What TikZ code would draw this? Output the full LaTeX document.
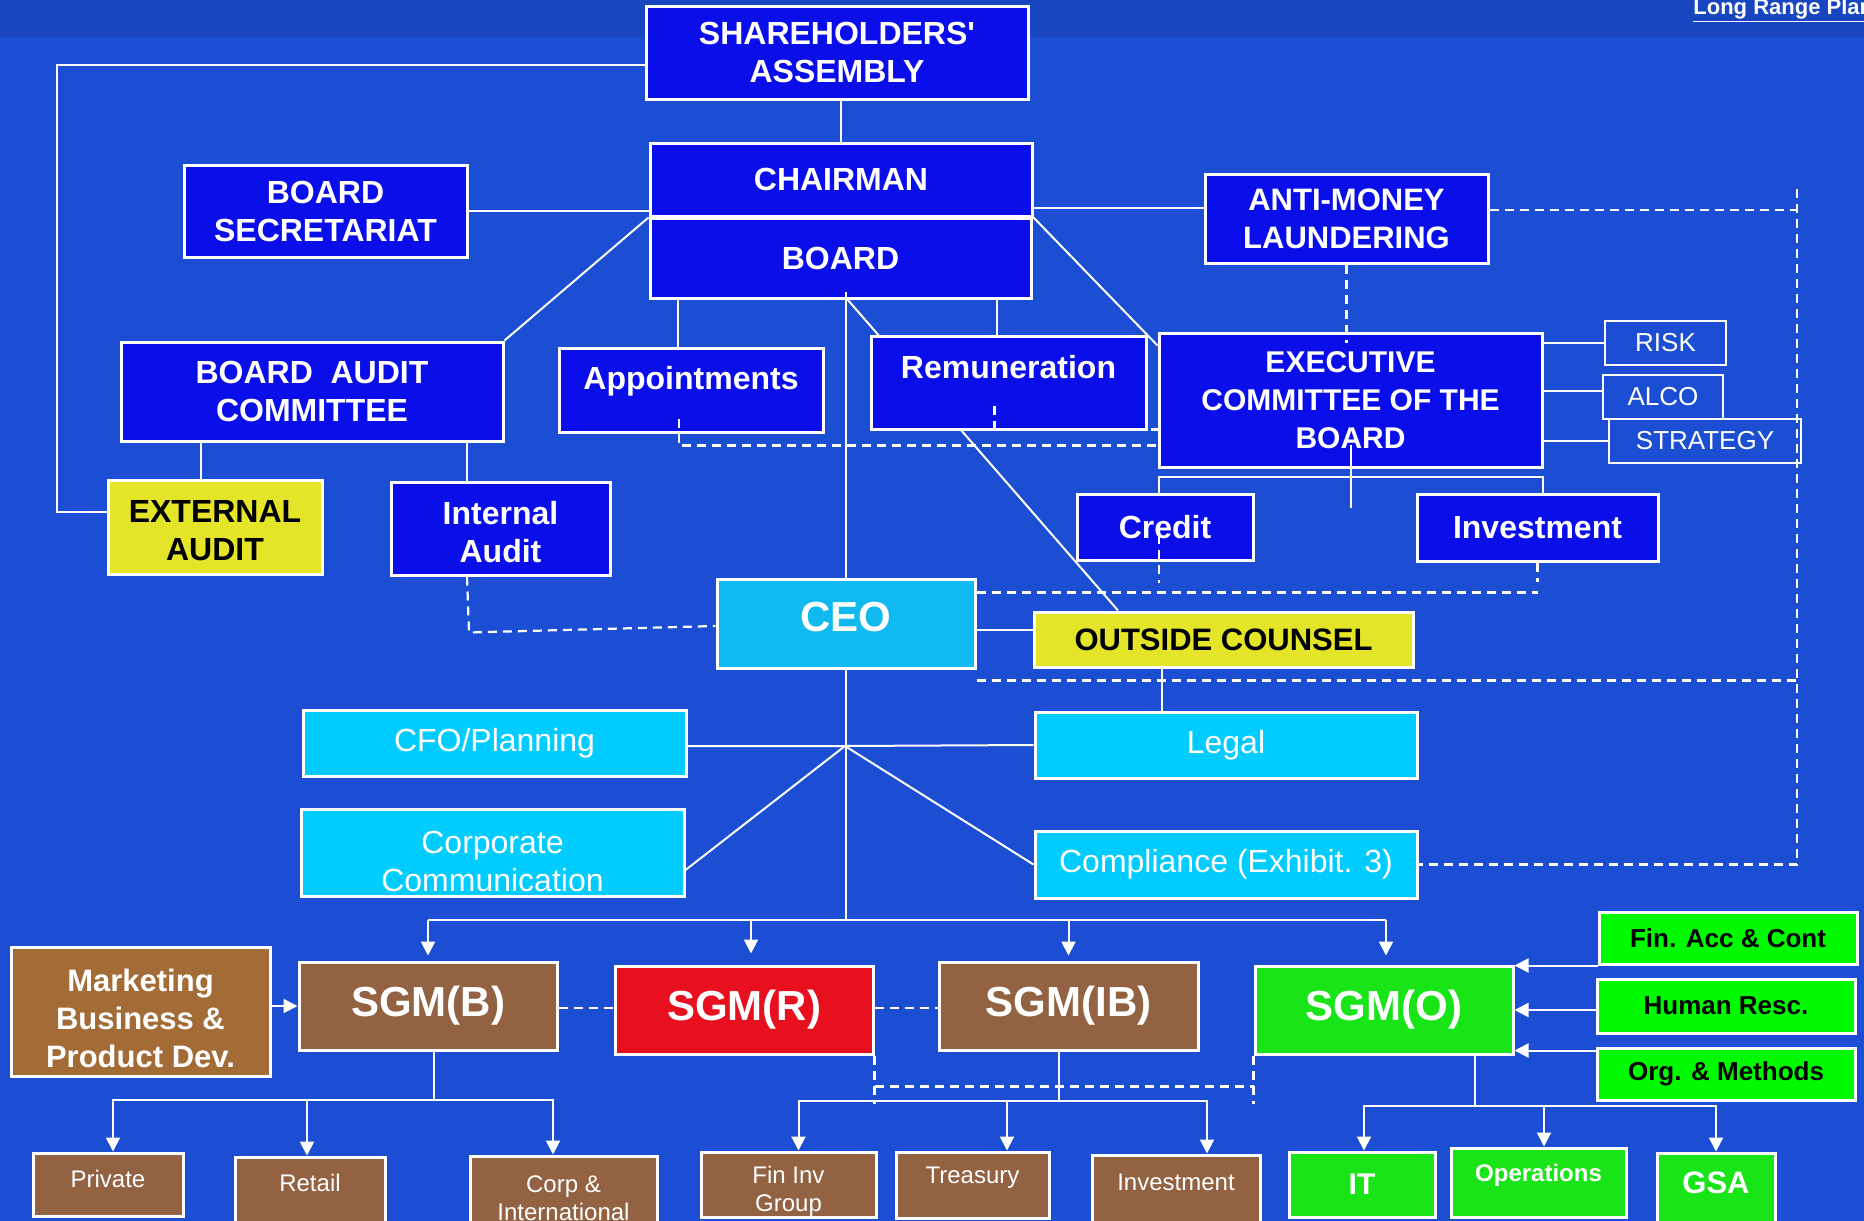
\documentclass[tikz,border=0pt]{standalone}
\usepackage{fontspec}
\setmainfont{Liberation Sans}
\usepackage{tikz}
\usetikzlibrary{arrows.meta, backgrounds}
\definecolor{bgblue}{RGB}{27,78,210}
\definecolor{bandblue}{RGB}{24,70,192}
\definecolor{boardblue}{RGB}{10,14,232}
\definecolor{skyfill}{RGB}{0,204,255}
\definecolor{ceofill}{RGB}{16,185,240}
\definecolor{lemon}{RGB}{228,228,40}
\definecolor{sgmbrown}{RGB}{146,98,66}
\definecolor{mktbrown}{RGB}{163,108,55}
\definecolor{sgmred}{RGB}{232,16,30}
\definecolor{sgmgreen}{RGB}{24,228,24}
\definecolor{accgreen}{RGB}{0,250,0}
\tikzset{
  headfont/.style={font=\bfseries\fontsize{16}{19}\selectfont},
  plainfont/.style={font=\fontsize{16}{19}\selectfont},
  smallfont/.style={font=\fontsize{12}{14}\selectfont},
  orgbox/.style={rectangle, draw=white, line width=1.5pt, inner sep=0pt,
    align=center, text=white},
  wh/.style 2 args={minimum width=#1*0.5pt, minimum height=#2*0.5pt},
  boardbox/.style={orgbox, fill=boardblue, headfont},
  skybox/.style={orgbox, fill=skyfill, plainfont},
  tagbox/.style={rectangle, draw=white, line width=1pt, inner sep=0pt,
    text=white, font=\fontsize{13}{15}\selectfont},
  yellowbox/.style={orgbox, fill=lemon, text=black, headfont},
  sgm/.style={orgbox, font=\bfseries\fontsize{21}{25}\selectfont},
  unitbox/.style={orgbox, fill=sgmbrown, smallfont},
  greenbox/.style={orgbox, fill=sgmgreen, font=\bfseries\fontsize{15}{18}\selectfont},
  supportbox/.style={orgbox, fill=accgreen, text=black,
    font=\bfseries\fontsize{13}{15}\selectfont},
  boxtext/.style={inner sep=0pt, align=center, text=white},
  link/.style={draw=white, line width=1pt},
  dashlink/.style={draw=white, line width=1.1pt, dash pattern=on 4.5pt off 3pt},
  feed/.style={link, -{Triangle[width=7pt,length=7pt]}},
}

\begin{document}
\begin{tikzpicture}[x=0.5pt, y=-0.5pt]
  \useasboundingbox (0,0) rectangle (1864,1221);

  % board level
  \node[boardbox, wh={382}{93}] (share) at (837,52.5) {SHAREHOLDERS\textquotesingle\\ASSEMBLY};
  \node[boardbox, wh={382}{73}] (chair) at (841,179.5) {CHAIRMAN};
  \node[boardbox, wh={381}{80}] (board) at (840.5,258) {BOARD};
  \node[boardbox, wh={283}{92}] (bsec) at (325.5,211) {BOARD\\SECRETARIAT};
  \node[boardbox, wh={283}{89}, font=\bfseries\fontsize{15.5}{19}\selectfont] (aml) at (1346.5,219) {ANTI-MONEY\\LAUNDERING};
  \node[boardbox, wh={382}{99}] (bac) at (312,391.5) {BOARD~~AUDIT\\COMMITTEE};
  \node[boardbox, wh={264}{84}] (appt) at (691,390) {};
  \node[boxtext, headfont] (appt-t) at (691,381) {Appointments};
  \node[boardbox, wh={275}{93}] (remu) at (1008.5,382.5) {};
  \node[boxtext, headfont] (remu-t) at (1008.5,367) {Remuneration};
  \node[boardbox, wh={383}{134}, font=\bfseries\fontsize{15}{19}\selectfont] (exec) at (1350.5,400) {EXECUTIVE\\COMMITTEE OF THE\\BOARD};
  \node[tagbox, wh={121}{44}] (risk) at (1665.5,343) {RISK};
  \node[tagbox, wh={120}{44}] (alco) at (1663,397) {ALCO};
  \node[tagbox, wh={192}{44}] (strat) at (1705,441) {STRATEGY};
  \node[boardbox, wh={176}{66}] (credit) at (1165,527) {Credit};
  \node[boardbox, wh={241}{67}] (invest) at (1537.5,527.5) {Investment};
  \node[yellowbox, wh={214}{94}] (extaudit) at (215,527) {};
  \node[boxtext, headfont, text=black] (extaudit-t) at (215,531) {EXTERNAL\\AUDIT};
  \node[boardbox, wh={219}{93}] (intaudit) at (500.5,528.5) {};
  \node[boxtext, headfont] (intaudit-t) at (500.5,532) {Internal\\Audit};

  % management
  \node[orgbox, fill=ceofill, wh={258}{89}] (ceo) at (846,623.5) {};
  \node[boxtext, font=\bfseries\fontsize{21}{25}\selectfont] (ceo-t) at (846,617) {CEO};
  \node[yellowbox, wh={379}{55}, font=\bfseries\fontsize{15.5}{18}\selectfont] (counsel) at (1223.5,639.5) {OUTSIDE COUNSEL};
  \node[skybox, wh={383}{66}] (cfo) at (494.5,743) {CFO/Planning};
  \node[skybox, wh={382}{66}] (legal) at (1226,745) {Legal};
  \node[skybox, wh={383}{87}] (corpcom) at (492.5,852.5) {};
  \node[boxtext, plainfont] (corpcom-t) at (492.5,861) {Corporate\\Communication};
  \node[skybox, wh={382}{67}] (compl) at (1226,864.5) {Compliance (Exhibit. 3)};

  % groups
  \node[orgbox, fill=mktbrown, wh={259}{129}] (mkt) at (140.5,1011.5) {};
  \node[boxtext, font=\bfseries\fontsize{15.5}{19}\selectfont] (mkt-t) at (140.5,1018) {Marketing\\Business \&\\Product Dev.};
  \node[sgm, fill=sgmbrown, wh={258}{88}] (sgmb) at (428,1006) {SGM(B)};
  \node[sgm, fill=sgmred, wh={258}{88}] (sgmr) at (744,1010) {SGM(R)};
  \node[sgm, fill=sgmbrown, wh={259}{88}] (sgmib) at (1068.5,1006) {SGM(IB)};
  \node[sgm, fill=sgmgreen, wh={258}{88}] (sgmo) at (1384,1010) {SGM(O)};
  \node[supportbox, wh={258}{52}] (finacc) at (1728,938) {Fin. Acc \& Cont};
  \node[supportbox, wh={258}{54}] (humres) at (1726,1006) {Human Resc.};
  \node[supportbox, wh={258}{52}] (orgmeth) at (1726,1074) {Org. \& Methods};

  % units
  \node[unitbox, wh={150}{63}] (private) at (108,1184.5) {};
  \node[boxtext, smallfont] (private-t) at (108,1179) {Private};
  \node[unitbox, wh={150}{90}] (retail) at (310,1202) {};
  \node[boxtext, smallfont] (retail-t) at (310,1183) {Retail};
  \node[unitbox, wh={187}{84}] (corpint) at (563.5,1198) {Corp \&\\International};
  \node[unitbox, wh={175}{65}] (fininv) at (788.5,1184.5) {};
  \node[boxtext, smallfont] (fininv-t) at (788.5,1191) {Fin Inv\\Group};
  \node[unitbox, wh={153}{66}] (treas) at (972.5,1185) {};
  \node[boxtext, smallfont] (treas-t) at (972.5,1178) {Treasury};
  \node[unitbox, wh={168}{90}] (invlow) at (1176,1200) {};
  \node[boxtext, smallfont] (invlow-t) at (1176,1182) {Investment};
  \node[greenbox, wh={146}{65}] (it) at (1362,1184.5) {IT};
  \node[greenbox, wh={175}{69}] (ops) at (1538.5,1182.5) {};
  \node[boxtext, font=\bfseries\fontsize{12}{14}\selectfont] (ops-t) at (1538.5,1175) {Operations};
  \node[greenbox, wh={118}{92}] (gsa) at (1716,1199) {};
  \node[boxtext, font=\bfseries\fontsize{15.5}{18}\selectfont] (gsa-t) at (1716,1183) {GSA};

  \node[anchor=base west, inner sep=0pt, text=white,
    font=\bfseries\fontsize{11}{13}\selectfont] (lrp) at (1693,14) {\underline{Long Range Plan}};

  \begin{scope}[on background layer]
    \fill[bgblue] (0,0) rectangle (1864,1221);
    \fill[bandblue] (0,0) rectangle (1864,37);
    \draw[link] ([yshift=4pt]board.south) -- ([xshift=-52.75pt]counsel.north);
  \end{scope}

  % board connectors
  \draw[link] (share.south -| chair.north) -- (chair.north);
  \draw[link] ([yshift=-6.25pt]share.west) -| (57,512) -- ([yshift=7.5pt]extaudit.west);
  \draw[link] (bsec.east) -- (bsec.east -| chair.west);
  \draw[link] (chair.south west) -- (bac.north east);
  \draw[link] ([xshift=-7pt]extaudit.north) -- ([xshift=-7pt]extaudit.north |- bac.south);
  \draw[link] ([xshift=-16.75pt]intaudit.north) -- ([xshift=-16.75pt]intaudit.north |- bac.south);
  \draw[dashlink] ([xshift=-16.75pt]intaudit.south) -- ++(2,56) -- ([yshift=-1.25pt]ceo.west);
  \draw[link] ([xshift=-6.5pt]appt.north) -- ([xshift=-6.5pt]appt.north |- board.south);
  \draw[dashlink] ([xshift=-6pt]appt.south) ++(0,-15) -- ++(0,27) -- ++(480,0);
  \draw[link] ([xshift=-5.75pt]remu.north) -- ([xshift=-5.75pt]remu.north |- board.south);
  \draw[dashlink] ([xshift=-7pt]remu.south) ++(0,-25) -- ++(0,24) -- ++(165,0);
  \draw[link] (ceo.north |- board.south) ++(0,-8) -- (ceo.north);
  \draw[link] ([yshift=5.5pt]aml.west) -- ([yshift=5.5pt]aml.west -| chair.east);
  \draw[link] (chair.south east) -- ([yshift=-7pt]exec.north west);
  \draw[dashlink] (aml.south) -- ++(0,78);

  % committees
  \coordinate (rail) at (1797,189);
  \draw[dashlink] ([yshift=4.5pt]aml.east) -- ([yshift=4.5pt]aml.east -| rail);
  \draw[dashlink] (rail) -- (rail |- compl.east) -- (compl.east);
  \draw[link] (risk.west) -- (risk.west -| exec.east);
  \draw[link] ([yshift=3pt]alco.west) -- ([yshift=3pt]alco.west -| exec.east);
  \draw[link] (strat.west) -- (strat.west -| exec.east);
  \draw[link] ([yshift=12pt]exec.south) -- ++(0,63);
  \draw[link] ([xshift=-3pt]credit.north) -- ++(0,-16) -| ([xshift=2.75pt]invest.north);
  \draw[dashlink] ([xshift=-3pt]credit.center) ++(0,8) -- ++(0,48);
  \draw[dashlink] (invest.south) -- ++(0,19);
  \draw[dashlink] ([yshift=-7.5pt]ceo.north east) -- ([yshift=-7.5pt]ceo.north east -| invest.south);

  % CEO staff
  \draw[link] ([yshift=-3.25pt]ceo.east) -- ([yshift=-3.25pt]ceo.east -| counsel.west);
  \draw[link] ([xshift=-32pt]legal.north) -- ([xshift=-32pt]legal.north |- counsel.south);
  \draw[dashlink] ([yshift=-5.5pt]ceo.south east) -- ([yshift=-5.5pt]ceo.south east -| rail);
  \coordinate (hub) at (845,746);
  \coordinate (bus) at (845,920);
  \draw[link] (ceo.south) -- (ceo.south |- bus);
  \draw[link] ([yshift=-1.5pt]cfo.east) -- (hub) -- (legal.west);
  \draw[link] ([yshift=-8.75pt]corpcom.east) -- (hub) -- (compl.west);

  % SGMs
  \draw[link] (sgmb.north |- bus) -- ([xshift=1pt]sgmo.north |- bus);
  \draw[feed] (sgmb.north |- bus) -- ([yshift=2.5pt]sgmb.north);
  \draw[feed] ([xshift=3.5pt]sgmr.north |- bus) -- ([xshift=3.5pt,yshift=5.5pt]sgmr.north);
  \draw[feed] (sgmib.north |- bus) -- ([yshift=2.5pt]sgmib.north);
  \draw[feed] ([xshift=1pt]sgmo.north |- bus) -- ([xshift=1pt,yshift=4.5pt]sgmo.north);
  \draw[dashlink] ([yshift=-1pt]sgmb.east) -- ([yshift=1pt]sgmr.west);
  \draw[dashlink] ([yshift=1pt]sgmr.east) -- ([yshift=-1pt]sgmib.west);
  \draw[feed] (mkt.east |- sgmb.west) -- (sgmb.west);

  \coordinate (bb) at (434,1100);
  \draw[link] ([xshift=3pt]sgmb.south) -- (bb);
  \draw[feed] (bb) -| ([xshift=2.5pt]private.north);
  \draw[feed] (bb) -| ([xshift=-5.25pt]corpint.north);
  \draw[feed] ([xshift=-1.5pt]retail.north |- bb) -- ([xshift=-1.5pt]retail.north);

  \coordinate (ib) at (1059,1101);
  \draw[link] ([xshift=-4.75pt]sgmib.south) -- (ib);
  \draw[feed] (ib) -| ([xshift=5pt]fininv.north);
  \draw[feed] (ib) -| ([xshift=15.5pt]invlow.north);
  \draw[feed] ([xshift=17.25pt]treas.north |- ib) -- ([xshift=17.25pt]treas.north);

  \draw[dashlink] (sgmr.south east) -- ++(0,48);
  \draw[dashlink] (sgmo.south west) -- ++(0,48);
  \draw[dashlink] ([yshift=-15.5pt]sgmr.south east) -- ([yshift=-15.5pt]sgmr.south east -| sgmo.south west);

  \coordinate (ob) at (1475,1106);
  \draw[link] ([xshift=45.5pt]sgmo.south) -- (ob);
  \draw[feed] (ob) -| ([xshift=1pt]it.north);
  \draw[feed] (ob) -| (gsa.north);
  \draw[feed] ([xshift=2.75pt]ops.north |- ob) -- ([xshift=2.75pt]ops.north);
  \draw[feed] (finacc.south west) -- (finacc.south west -| sgmo.east);
  \draw[feed] ([yshift=-2pt]humres.west) -- ([yshift=-2pt]humres.west -| sgmo.east);
  \draw[feed] ([yshift=-2pt]orgmeth.north west) -- ([yshift=-2pt]orgmeth.north west -| sgmo.east);
\end{tikzpicture}
\end{document}
